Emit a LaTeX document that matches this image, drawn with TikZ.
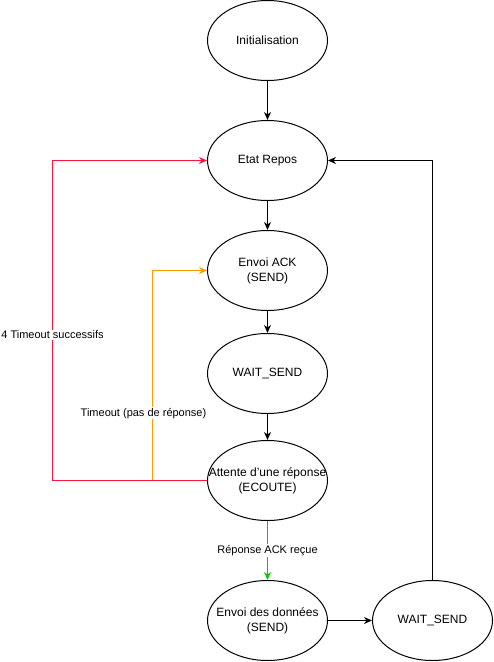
\documentclass[tikz,border=0pt]{standalone}
\usepackage{fontspec}
\setmainfont{Liberation Sans}
\usetikzlibrary{shapes.geometric,arrows.meta}
\definecolor{lred}{RGB}{255,20,60}
\definecolor{lorange}{RGB}{255,153,0}
\definecolor{lgreen}{RGB}{0,204,0}
\tikzset{
  % fixed-size ellipse; the text is set as a centred label so it never widens the shape
  state/.style={ellipse, draw=black, line width=1pt, minimum width=120pt,
    minimum height=80pt, inner sep=0pt,
    label={[align=center, inner sep=0pt, font=\fontsize{12}{15}\selectfont]center:#1}},
  link/.style={line width=1pt, -{Stealth[length=8pt,width=7pt,inset=2.5pt]}},
  lbl/.style={fill=white, text=black, inner sep=1pt, font=\fontsize{11}{13}\selectfont}
}
\begin{document}
\begin{tikzpicture}[x=1pt, y=-1pt]
\useasboundingbox (0,0) rectangle (494,662);

% states
\node[state={Initialisation}] (init) at (267.5,40.5) {};
\node[state={Etat Repos}] (rep) at (267.5,160.5) {};
\node[state={Envoi ACK\\(SEND)}] (ack) at (267.5,270.5) {};
\node[state={WAIT\_SEND}] (ws1) at (267.5,373.5) {};
\node[state={Attente d'une réponse\\(ECOUTE)}] (att) at (267.5,480.5) {};
\node[state={Envoi des données\\(SEND)}] (data) at (267.5,620.5) {};
\node[state={WAIT\_SEND}] (ws2) at (432.5,620.5) {};

% bend points of the loop-back edges
\coordinate (ob)  at (152.5,480.5);
\coordinate (rc1) at (52.5,480.5);
\coordinate (rc2) at (52.5,160.5);

% main sequence
\draw[link] (init) -- (rep);
\draw[link] (rep) -- (ack);
\draw[link] (ack) -- (ws1);
\draw[link] (ws1) -- (att);
\draw[link, color=lgreen] (att) -- node[lbl]{Réponse ACK reçue} (data);
\draw[link] (data) -- (ws2);
\draw[link] (ws2.north) |- (rep.east);

% timeout loops
\draw[link, color=lorange] (att.west) -- (ob)
  -- node[lbl, pos=0.32, xshift=-9pt]{Timeout (pas de réponse)} (ob |- ack.west) -- (ack.west);
\draw[link, color=lred] (att.west) -- (rc1)
  -- node[lbl, pos=0.456]{4 Timeout successifs} (rc2) -- (rep.west);
\end{tikzpicture}
\end{document}
